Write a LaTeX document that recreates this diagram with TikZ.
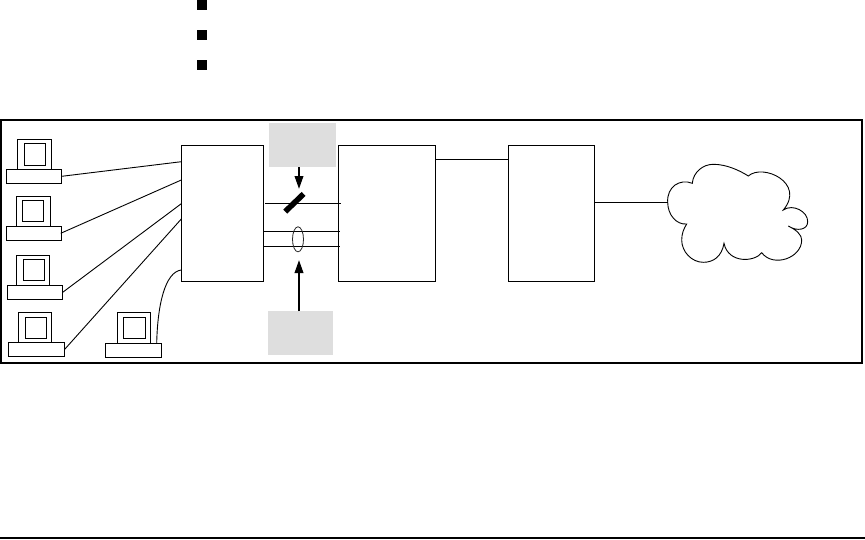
\documentclass[tikz,border=0pt]{standalone}
\usetikzlibrary{arrows.meta,calc,shapes.geometric}
\tikzset{
  every picture/.style={x=1pt,y=-1pt},
  every node/.style={outer sep=0pt},
  thinline/.style={draw=black,line width=0.9pt},
  rectbox/.style={draw=black,line width=1pt,fill=white,rectangle,inner sep=0pt,anchor=north west},
  greybox/.style={fill=black!13,draw=none,rectangle,inner sep=0pt,anchor=north west},
  bulletmark/.style={fill=black,draw=none,rectangle,inner sep=0pt,minimum width=10pt,minimum height=10pt,anchor=north west},
  fatarrow/.style={draw=black,line width=2.1pt,-{Triangle[length=13pt,width=8.5pt]},shorten >=0pt},
}
\newcommand{\pcunit}[9]{%
  \node[rectbox,minimum width=#3pt-#2pt,minimum height=#5pt-#4pt] (#1m) at (#2,#4) {};
  \node[rectbox,minimum width=#7pt-#6pt,minimum height=#9pt-#8pt] (#1s) at (#6,#8) {};
}
\begin{document}
\begin{tikzpicture}
\useasboundingbox (0,0) rectangle (865,539);
\fill[white] (0,0) rectangle (865,539);
% bullets
\node[bulletmark] (b1) at (197,0) {};
\node[bulletmark] (b2) at (197,30) {};
\node[bulletmark] (b3) at (197,60) {};
% frame
\node[draw=black,line width=2pt,rectangle,inner sep=0pt,anchor=north west,minimum width=861pt,minimum height=243pt] (frame) at (1,120) {};
% bottom rule
\coordinate (ruleL) at (0,538);
\coordinate (ruleR) at (865,538);
\draw[line width=2pt] (ruleL) -- (ruleR);
% grey boxes
\node[greybox,minimum width=67pt,minimum height=44pt] (gtop) at (269,123) {};
\node[greybox,minimum width=65pt,minimum height=44pt] (gbot) at (268,311) {};
% main boxes
\node[rectbox,minimum width=82pt,minimum height=136pt] (A) at (181.3,145.3) {};
\node[rectbox,minimum width=97.4pt,minimum height=136pt] (B) at (338.3,145.3) {};
\node[rectbox,minimum width=86pt,minimum height=136pt] (C) at (508,145.3) {};
% computers
\pcunit{p1}{17.3}{51.7}{139.3}{169.3}{24.3}{45.7}{143.3}{165.3}
\node[rectbox,minimum width=55.4pt,minimum height=14pt] (p1b) at (6.3,169.3) {};
\pcunit{p2}{16.3}{50.7}{196.3}{226.3}{22.3}{43.7}{200.3}{221.7}
\node[rectbox,minimum width=55.4pt,minimum height=14pt] (p2b) at (6.3,226.3) {};
\pcunit{p3}{16.3}{49.7}{255.3}{285.3}{23.3}{44.7}{259.3}{280.7}
\node[rectbox,minimum width=55.4pt,minimum height=14pt] (p3b) at (7.3,285.3) {};
\pcunit{p4}{18.3}{51.7}{312.3}{342.3}{25.3}{46.7}{317.3}{338.7}
\node[rectbox,minimum width=56.4pt,minimum height=14pt] (p4b) at (8.3,342.3) {};
\pcunit{p5}{117.3}{150.7}{312.3}{343.3}{123.3}{145.7}{317.3}{338.7}
\node[rectbox,minimum width=56.4pt,minimum height=14pt] (p5b) at (105.3,343.3) {};
% connection points
\coordinate (a1) at (A.west |- 0,161.7);
\coordinate (a2) at (A.west |- 0,180);
\coordinate (a3) at (A.west |- 0,203.7);
\coordinate (a4) at (A.west |- 0,219);
\coordinate (a5) at (A.west |- 0,270);
\coordinate (c1) at (p1b.east);
\coordinate (c2) at (60.7,233.3);
\coordinate (c3) at (p3b.east);
\coordinate (c4) at (p4b.east);
\coordinate (c5) at (156.7,343.3);
\draw[thinline] (c1) -- (a1);
\draw[thinline] (c2) -- (a2);
\draw[thinline] (c3) -- (a3);
\draw[thinline] (c4) -- (a4);
\draw[thinline] (c5) .. controls (157.5,305) and (165,272) .. (a5);
% links A-B
\coordinate (l1a) at (265,203.3);
\coordinate (l1b) at (340.7,203.3);
\coordinate (l2a) at (A.east |- 0,231.3);
\coordinate (l2b) at (340,231.3);
\coordinate (l3a) at (A.east |- 0,246.3);
\coordinate (l3b) at (340,246.3);
\draw[thinline] (l1a) -- (l1b);
\draw[thinline] (l2a) -- (l2b);
\draw[thinline] (l3a) -- (l3b);
% links B-C, C-cloud
\coordinate (bc1) at (B.east |- 0,159.3);
\coordinate (bc2) at (C.west |- 0,159.3);
\draw[thinline] (bc1) -- (bc2);
\coordinate (cc1) at (C.east |- 0,202.3);
\coordinate (cl) at (667.7,202.3);
\draw[thinline] (cc1) -- (cl);
% switch bar and ellipse
\coordinate (sw1) at (285.2,211.6);
\coordinate (sw2) at (303.6,193.9);
\draw[line width=5.6pt] (sw1) -- (sw2);
\node[draw=black!85,line width=0.8pt,ellipse,inner sep=0pt,minimum width=11pt,minimum height=25pt] (ell) at (298,239.3) {};
% arrows
\coordinate (gt) at (299,167);
\coordinate (gth) at (299,189);
\coordinate (gb) at (299,311);
\coordinate (gbh) at (299,260);
\draw[fatarrow] (gt) -- (gth);
\draw[fatarrow] (gb) -- (gbh);
% cloud
\draw[line width=0.9pt] (cl)
  .. controls (666.7,186.7) and (680,178.3) .. (692.3,183.3)
  .. controls (693.3,171.7) and (703.3,164.3) .. (713.3,164.3)
  .. controls (726.7,164.3) and (740,170.7) .. (748.3,176)
  .. controls (763,163) and (806,183) .. (783.3,210)
  .. controls (793,203.3) and (808,211.7) .. (807.7,221.7)
  .. controls (807.7,230) and (796.7,231.7) .. (788.3,226)
  .. controls (796.7,230) and (801.7,235) .. (801.7,240)
  .. controls (801.7,258) and (773.3,268) .. (761.7,252.7)
  .. controls (755,262) and (728.3,264) .. (724,243.3)
  .. controls (721.7,256.7) and (713.3,262.3) .. (703.3,262.3)
  .. controls (691.7,262.3) and (681.7,251.7) .. (681.7,240)
  .. controls (681.7,233.3) and (684,228.3) .. (686.7,224)
  .. controls (676.7,225) and (667.7,215) .. (cl);
\end{tikzpicture}
\end{document}
